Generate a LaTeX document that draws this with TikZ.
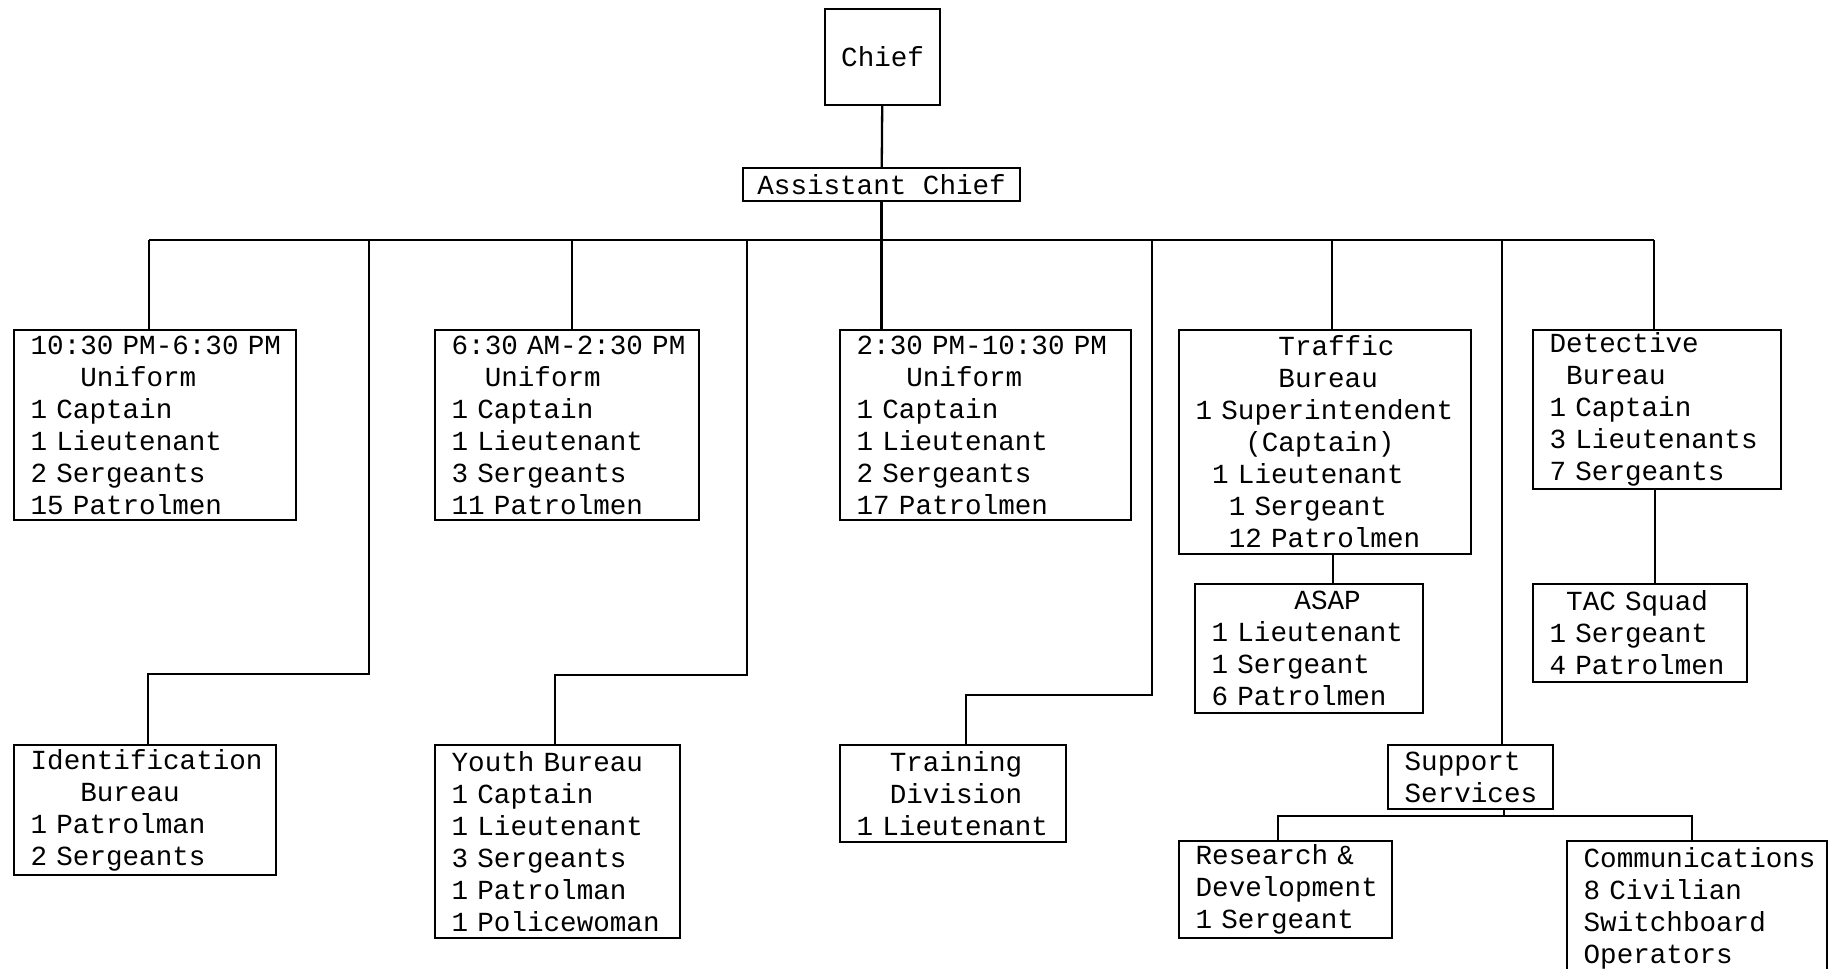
\documentclass[tikz,border=0pt]{standalone}
\usepackage{fontspec}
\newfontfamily\tw{Liberation Mono}
\newlength\cw
\newcommand\ind[1]{\settowidth\cw{0}\hspace*{#1\cw}}
\begin{document}
\begin{tikzpicture}[x=1pt,y=-1pt,
  unit/.style={draw, line width=2.2pt, inner sep=0pt, anchor=north west,
    align=left, font={\tw\fontsize{27.6}{32}\selectfont}},
  link/.style={line width=2.3pt}]
\useasboundingbox[fill=white] (0,0) rectangle (1829,969);

% top of the chain of command
\node[unit, align=center, minimum width=115pt, minimum height=96pt] (chief) at (824,8) {Chief};
\node[unit, align=center, minimum width=277pt, minimum height=33pt] (asst) at (742,167) {Assistant Chief};

% first row: the three uniform shifts and the two bureaus
\node[unit, minimum width=282pt, minimum height=190pt, text width=282pt] (s1) at (13,329)
  {\ind{1}10:30 PM-6:30 PM\\\ind{4}Uniform\\\ind{1}1 Captain\\\ind{1}1 Lieutenant\\\ind{1}2 Sergeants\\\ind{1}15 Patrolmen};
\node[unit, minimum width=264pt, minimum height=190pt, text width=264pt] (s2) at (434,329)
  {\ind{1}6:30 AM-2:30 PM\\\ind{3}Uniform\\\ind{1}1 Captain\\\ind{1}1 Lieutenant\\\ind{1}3 Sergeants\\\ind{1}11 Patrolmen};
\node[unit, minimum width=291pt, minimum height=190pt, text width=291pt] (s3) at (839,329)
  {\ind{1}2:30 PM-10:30 PM\\\ind{4}Uniform\\\ind{1}1 Captain\\\ind{1}1 Lieutenant\\\ind{1}2 Sergeants\\\ind{1}17 Patrolmen};
\node[unit, minimum width=292pt, minimum height=224pt, text width=292pt] (tr) at (1178,329)
  {\ind{6}Traffic\\\ind{6}Bureau\\\ind{1}1 Superintendent\\\ind{4}(Captain)\\\ind{2}1 Lieutenant\\\ind{3}1 Sergeant\\\ind{3}12 Patrolmen};
\node[unit, minimum width=248pt, minimum height=159pt, text width=248pt] (det) at (1532,329)
  {\ind{1}Detective\\\ind{2}Bureau\\\ind{1}1 Captain\\\ind{1}3 Lieutenants\\\ind{1}7 Sergeants};

% units under traffic and detectives
\node[unit, minimum width=228pt, minimum height=129pt, text width=228pt] (asap) at (1194,583)
  {\ind{6}ASAP\\\ind{1}1 Lieutenant\\\ind{1}1 Sergeant\\\ind{1}6 Patrolmen};
\node[unit, minimum width=214pt, minimum height=98pt, text width=214pt] (tac) at (1532,583)
  {\ind{2}TAC Squad\\\ind{1}1 Sergeant\\\ind{1}4 Patrolmen};

% second row
\node[unit, minimum width=262pt, minimum height=130pt, text width=262pt] (ident) at (13,744)
  {\ind{1}Identification\\\ind{4}Bureau\\\ind{1}1 Patrolman\\\ind{1}2 Sergeants};
\node[unit, minimum width=245pt, minimum height=193pt, text width=245pt] (youth) at (434,744)
  {\ind{1}Youth Bureau\\\ind{1}1 Captain\\\ind{1}1 Lieutenant\\\ind{1}3 Sergeants\\\ind{1}1 Patrolman\\\ind{1}1 Policewoman};
\node[unit, minimum width=226pt, minimum height=97pt, text width=226pt] (train) at (839,744)
  {\ind{3}Training\\\ind{3}Division\\\ind{1}1 Lieutenant};
\node[unit, minimum width=165pt, minimum height=64pt, text width=165pt] (sup) at (1387,744)
  {\ind{1}Support\\\ind{1}Services};
\node[unit, minimum width=213pt, minimum height=97pt, text width=213pt] (rd) at (1178,840)
  {\ind{1}Research \&\\\ind{1}Development\\\ind{1}1 Sergeant};
\node[unit, minimum width=260pt, minimum height=134pt, text width=260pt] (comm) at (1566,840)
  {\ind{1}Communications\\\ind{1}8 Civilian\\\ind{1}Switchboard\\\ind{1}Operators};

% main distribution bus
\coordinate (busL) at (149,240);
\coordinate (busR) at (1654,240);
\coordinate (d2) at (369,240);
\coordinate (d3) at (572,240);
\coordinate (d4) at (747,240);
\coordinate (d6) at (1152,240);
\coordinate (d7) at (1332,240);
\coordinate (d8) at (1502,240);
\coordinate (k2) at (148,674);
\coordinate (k4) at (555,675);
\coordinate (k6) at (966,695);

\draw[link] (chief) -- (asst);
\draw[link] (asst.south) -- (asst.south |- s3.north);
\draw[link] (busL) -- (busR);
\draw[link] (busL) -- (busL |- s1.north);
\draw[link] (d3) -- (d3 |- s2.north);
\draw[link] (d7) -- (d7 |- tr.north);
\draw[link] (busR) -- (busR |- det.north);
\draw[link] (d2) |- (k2) -- (k2 |- ident.north);
\draw[link] (d4) |- (k4) -- (k4 |- youth.north);
\draw[link] (d6) |- (k6) -- (k6 |- train.north);
\draw[link] (d8) -- (d8 |- sup.north);

% sub-units
\coordinate (ta) at (1333,0);
\draw[link] (tr.south -| ta) -- (asap.north -| ta);
\coordinate (dt) at (1655,0);
\draw[link] (det.south -| dt) -- (tac.north -| dt);

% support services split
\coordinate (sb) at (1504,816);
\coordinate (sbl) at (1278,816);
\coordinate (sbr) at (1692,816);
\draw[link] (sup.south -| sb) -- (sb);
\draw[link] (sbl |- rd.north) -- (sbl) -- (sbr) -- (sbr |- comm.north);
\end{tikzpicture}
\end{document}
